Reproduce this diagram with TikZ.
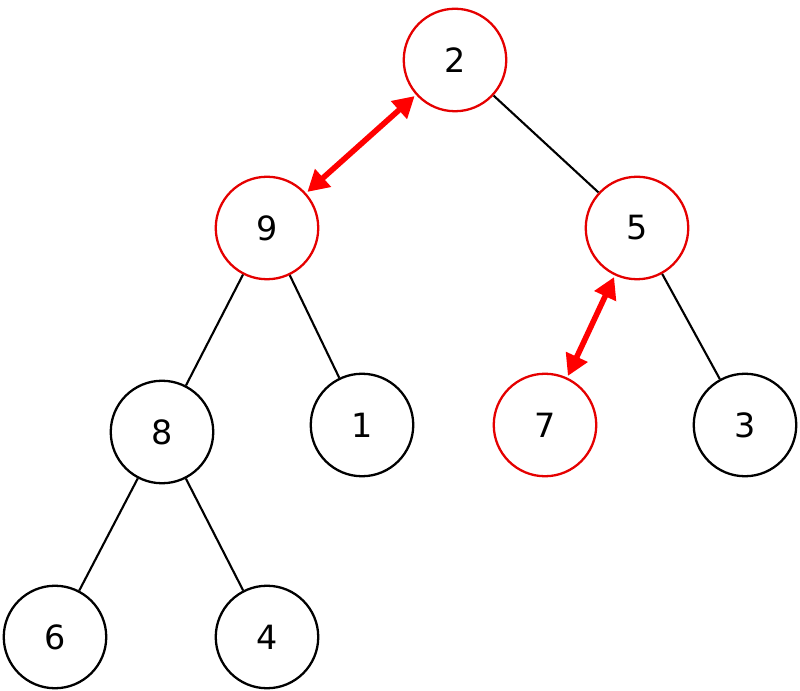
\documentclass[tikz,border=0pt]{standalone}
\usepackage{fontspec}
\setmainfont{DejaVu Sans}
\usetikzlibrary{arrows.meta, positioning}

\begin{document}
\begin{tikzpicture}[
    vert/.style={circle, draw=black, line width=1.3pt, minimum size=2.05cm, inner sep=0pt, font=\fontsize{19}{22}\selectfont},
    hot/.style={vert, draw=red!90!black},
    edge/.style={line width=1.2pt, black},
    swap/.style={line width=3.2pt, red, shorten <=1pt, shorten >=1pt, {Triangle[length=12pt,width=13pt]}-{Triangle[length=12pt,width=13pt]}}
]
    \useasboundingbox (0,0) rectangle (16,13.8);

    % heap nodes
    \node[hot]  (n2) at (9.1, 12.6) {2};
    \node[hot]  (n9) at (5.34, 9.24) {9};
    \node[hot]  (n5) at (12.74, 9.24) {5};
    \node[vert] (n8) at (3.24, 5.16) {8};
    \node[vert] (n1) at (7.24, 5.3) {1};
    \node[hot]  (n7) at (10.9, 5.3) {7};
    \node[vert] (n3) at (14.9, 5.3) {3};
    \node[vert] (n6) at (1.1, 1.06) {6};
    \node[vert] (n4) at (5.34, 1.06) {4};

    % tree edges
    \draw[edge] (n2) -- (n5);
    \draw[edge] (n9) -- (n8);
    \draw[edge] (n9) -- (n1);
    \draw[edge] (n5) -- (n3);
    \draw[edge] (n8) -- (n6);
    \draw[edge] (n8) -- (n4);

    % swaps
    \draw[swap] (n2) -- (n9);
    \draw[swap] (n5) -- (n7);
\end{tikzpicture}
\end{document}
